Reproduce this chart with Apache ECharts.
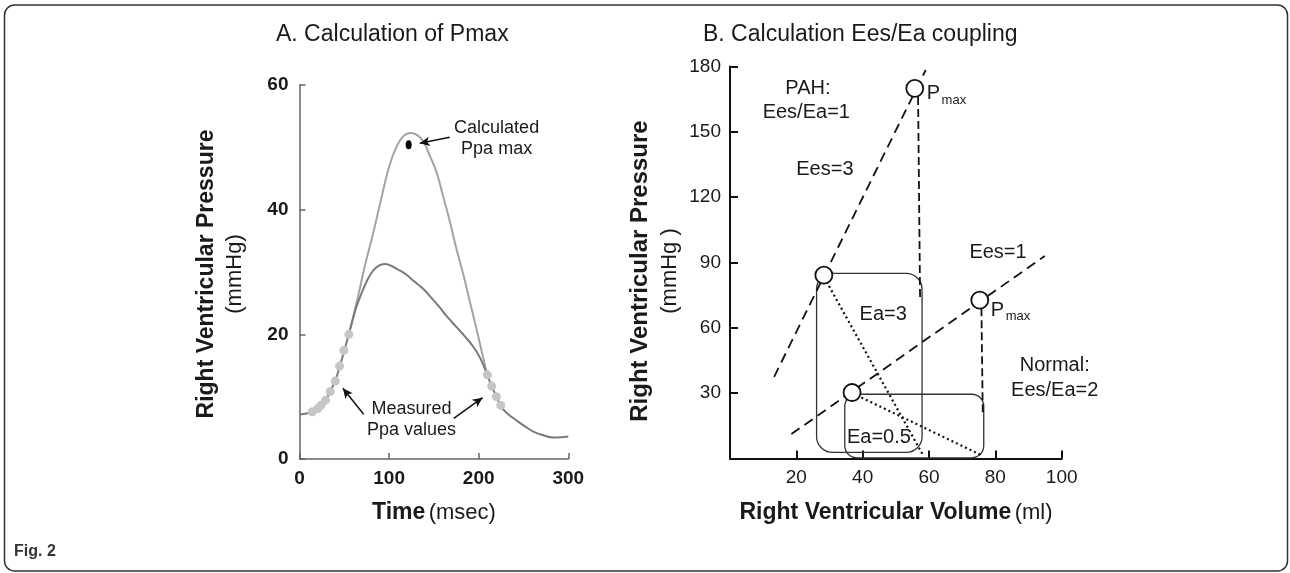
<!DOCTYPE html>
<html><head><meta charset="utf-8">
<script src="https://cdn.jsdelivr.net/npm/echarts@6/dist/echarts.min.js"></script>
<style>html,body{margin:0;padding:0;background:#fff}#c{width:1290px;height:573px}</style>
</head><body><div id="c"></div>
<script>
// ---------- Panel A : Calculation of Pmax (time msec, pressure mmHg) ----------
const lowerCurve = [[0,7.15],[8,7.3],[15,7.6],[22,8.3],[28,9.2],[34,10.7],[40,12.6],[45,14.9],[50,17.4],[55,20],[63,24.2],[69,26.5],[76,28.8],[82,30.2],[88,31],[95,31.3],[102,31],[110,30.4],[119,29.6],[128,28.5],[138,27.3],[147,25.9],[156,24.4],[165,22.8],[175,21.2],[185,19.6],[194,18],[202,16.1],[209,13.7],[214,11.8],[220,10],[225,8.4],[232,7.3],[242,6.2],[252,5.2],[261,4.4],[272,3.8],[283,3.45],[292,3.5],[300,3.6]];
const upperCurve = [[55,20],[60,22.8],[66,26.5],[73,31],[82,36.1],[90,41],[100,46.9],[108,50],[116,51.8],[124,52.3],[131,52],[138,51],[145,48.8],[153,46],[160,42.3],[168,38],[175,33.8],[183,29.5],[190,25.3],[197,21.2],[203,17.5],[209,13.7]];
const measuredPpa = [[14.2,7.57],[20.5,8.1],[24.2,8.64],[29,9.44],[34.3,10.8],[39.9,12.5],[44.7,14.9],[49.5,17.4],[55.1,20],[209.7,13.5],[214.5,11.7],[219.7,10],[224.6,8.6]];
const calcPpaMax = [[121.8,50.4]];
const annotA = [[220,53.1,'Calculated'],[220,49.7,'Ppa max'],[124.9,8.0,'Measured'],[124.9,4.65,'Ppa values']];
const arrowsA = [[167.7,51.6,134.2,50.65],[71.6,7.17,48.4,11.34],[172.2,6.53,204.3,9.83]];

// ---------- Panel B : Ees/Ea coupling (volume ml, pressure mmHg) ----------
const eesLines = [[[13.3,37.5],[59,178.4]], [[18.5,11.2],[94.9,93]]];
const pmaxDrops = [[[56.7,166],[57.3,74]], [[75.8,69],[76.2,21]]];
const eaLines = [[[29.1,81.2],[58.2,1.5]], [[39.6,28],[75.8,1.5]]];
const pvLoops = [[26.1,57.9,2.8,85],[34.6,76.5,0.3,29.5]]; // [vMin, vMax, pMin, pMax]
const pvPoints = [[55.7,170],[28.3,84.2],[75.3,72.7],[36.8,30.3]];
const annotB = [[23.5,170,'PAH:'],[23.0,158.8,'Ees/Ea=1'],[28.6,132.5,'Ees=3'],[80.8,94.5,'Ees=1'],[46.2,66.3,'Ea=3'],[44.9,9.5,'Ea=0.5'],[97.9,42.9,'Normal:'],[97.9,31.4,'Ees/Ea=2']];
const pLabels = [[61.3,167.7,'P'],[80.6,67.9,'P']];
const maxLabels = [[67.5,164.6,'max'],[86.8,65.1,'max']];

const FONT = '"Liberation Sans", Arial, Helvetica, sans-serif';
const loopRadius = [16, 12];

function labelSeries(xi, data, fontSize){
  return {type:'scatter', xAxisIndex:xi, yAxisIndex:xi, data:data, symbolSize:1,
    itemStyle:{color:'rgba(0,0,0,0)', opacity:1}, silent:true, z:6,
    label:{show:true, position:'inside', formatter:p=>p.data[2], color:'#1a1a1a', opacity:1,
      textBorderWidth:0, fontSize:fontSize, fontFamily:FONT}};
}
function lineSeries(pts, type, width){
  return {type:'line', xAxisIndex:1, yAxisIndex:1, data:pts, symbol:'none', silent:true, z:3,
    lineStyle:{color:'#111', width:width, type:type}};
}

const chart = echarts.init(document.getElementById('c'));
chart.setOption({
  backgroundColor:'#fff',
  animation:false,
  grid:[
    {left:299.5, top:85, width:268.8, height:374},
    {left:730, top:66.5, width:331.7, height:392}
  ],
  xAxis:[
    {gridIndex:0, type:'value', min:0, max:300, interval:100,
      axisLine:{lineStyle:{color:'#666', width:1.5}},
      axisTick:{inside:true, length:6, lineStyle:{color:'#666', width:1.5}},
      axisLabel:{color:'#1a1a1a', fontSize:19, fontWeight:'bold', fontFamily:FONT, margin:10},
      splitLine:{show:false}},
    {gridIndex:1, type:'value', min:0, max:100, interval:20,
      axisLine:{lineStyle:{color:'#111', width:2}},
      axisTick:{inside:true, length:8, lineStyle:{color:'#111', width:2}},
      axisLabel:{color:'#1a1a1a', fontSize:19, fontFamily:FONT, margin:10, formatter:v=>v===0?'':v},
      splitLine:{show:false}}
  ],
  yAxis:[
    {gridIndex:0, type:'value', min:0, max:60, interval:20,
      axisLine:{lineStyle:{color:'#666', width:1.5}},
      axisTick:{inside:true, length:6, lineStyle:{color:'#666', width:1.5}},
      axisLabel:{color:'#1a1a1a', fontSize:19, fontWeight:'bold', fontFamily:FONT, margin:11},
      splitLine:{show:false}},
    {gridIndex:1, type:'value', min:0, max:180, interval:30,
      axisLine:{lineStyle:{color:'#111', width:2}},
      axisTick:{inside:true, length:8, lineStyle:{color:'#111', width:2}},
      axisLabel:{color:'#1a1a1a', fontSize:19, fontFamily:FONT, margin:9, formatter:v=>v===0?'':v},
      splitLine:{show:false}}
  ],
  graphic:[
    {type:'rect', silent:true, z:-10, shape:{x:4.5,y:5,width:1283,height:566,r:10}, style:{fill:'none', stroke:'#333', lineWidth:1.5}},
    {type:'text', x:276, y:35, style:{text:'A. Calculation of Pmax', fontSize:23, fontFamily:FONT, fill:'#1a1a1a', align:'left', verticalAlign:'middle'}},
    {type:'text', x:703, y:35, style:{text:'B. Calculation Ees/Ea coupling', fontSize:23, fontFamily:FONT, fill:'#1a1a1a', align:'left', verticalAlign:'middle'}},
    {type:'text', x:221, y:274, rotation:Math.PI/2, style:{text:'{b|Right Ventricular Pressure}\n{n|(mmHg)}', align:'center', verticalAlign:'middle', fill:'#1a1a1a',
      rich:{b:{fontSize:23, fontWeight:'bold', fontFamily:FONT, lineHeight:28, fill:'#1a1a1a'}, n:{fontSize:22, fontFamily:FONT, lineHeight:28, fill:'#1a1a1a'}}}},
    {type:'text', x:655, y:271, rotation:Math.PI/2, style:{text:'{b|Right Ventricular Pressure}\n{n|(mmHg )}', align:'center', verticalAlign:'middle', fill:'#1a1a1a',
      rich:{b:{fontSize:24, fontWeight:'bold', fontFamily:FONT, lineHeight:30, fill:'#1a1a1a'}, n:{fontSize:22, fontFamily:FONT, lineHeight:30, fill:'#1a1a1a'}}}},
    {type:'text', x:434, y:513, style:{text:'{b|Time} {n|(msec)}', align:'center', verticalAlign:'middle',
      rich:{b:{fontSize:23, fontWeight:'bold', fontFamily:FONT, fill:'#1a1a1a'}, n:{fontSize:22, fontFamily:FONT, fill:'#1a1a1a'}}}},
    {type:'text', x:896, y:513, style:{text:'{b|Right Ventricular Volume} {n|(ml)}', align:'center', verticalAlign:'middle',
      rich:{b:{fontSize:23, fontWeight:'bold', fontFamily:FONT, fill:'#1a1a1a'}, n:{fontSize:22, fontFamily:FONT, fill:'#1a1a1a'}}}},
    {type:'text', x:14, y:552, style:{text:'Fig. 2', fontSize:16, fontWeight:'bold', fontFamily:FONT, fill:'#333', align:'left', verticalAlign:'middle'}}
  ],
  series:[
    // Panel A
    {type:'line', xAxisIndex:0, yAxisIndex:0, data:upperCurve, smooth:0.4, symbol:'none', silent:true, z:2,
      lineStyle:{color:'#a3a3a3', width:2}},
    {type:'line', xAxisIndex:0, yAxisIndex:0, data:lowerCurve, smooth:0.4, symbol:'none', silent:true, z:2,
      lineStyle:{color:'#7a7a7a', width:2}},
    {type:'scatter', xAxisIndex:0, yAxisIndex:0, data:measuredPpa, symbolSize:9, silent:true, z:3,
      itemStyle:{color:'#c6c6c6', opacity:1}},
    {type:'scatter', xAxisIndex:0, yAxisIndex:0, data:calcPpaMax, symbolSize:[6,9], silent:true, z:3,
      itemStyle:{color:'#000', opacity:1},
      markLine:{silent:true, symbol:['none','arrow'], symbolSize:[7,10], label:{show:false},
        lineStyle:{color:'#111', width:1.5, type:'solid', opacity:1},
        data:arrowsA.map(a=>[{coord:[a[0],a[1]]},{coord:[a[2],a[3]]}])}},
    labelSeries(0, annotA, 18),
    // Panel B
    {type:'custom', xAxisIndex:1, yAxisIndex:1, data:pvLoops, silent:true, z:2, clip:false,
      encode:{x:[0,1], y:[2,3]},
      renderItem:function(params, api){
        const a = api.coord([api.value(0), api.value(3)]);
        const b = api.coord([api.value(1), api.value(2)]);
        return {type:'rect', shape:{x:a[0], y:a[1], width:b[0]-a[0], height:b[1]-a[1], r:loopRadius[params.dataIndex]},
          style:{fill:'none', stroke:'#333', lineWidth:1.3}};
      }},
    ...eesLines.map(l=>lineSeries(l,[10,6],1.8)),
    ...pmaxDrops.map(l=>lineSeries(l,[8,4],1.8)),
    ...eaLines.map(l=>lineSeries(l,[2,3],2.2)),
    {type:'scatter', xAxisIndex:1, yAxisIndex:1, data:pvPoints, symbol:'circle', symbolSize:17, silent:true, z:5,
      itemStyle:{color:'#fff', borderColor:'#111', borderWidth:1.8, opacity:1}},
    labelSeries(1, annotB, 20),
    labelSeries(1, pLabels, 20),
    labelSeries(1, maxLabels, 13)
  ]
});
</script></body></html>
